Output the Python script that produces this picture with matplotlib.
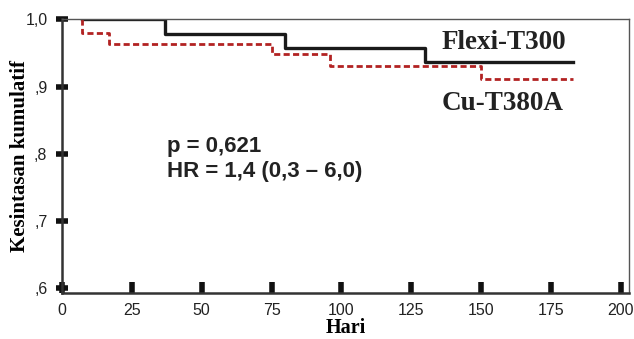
import matplotlib
matplotlib.use('Agg')
import matplotlib.pyplot as plt

# Kaplan-Meier step data (days, cumulative survival)
flexi_t = [7, 37, 80, 130, 183]
flexi_s = [1.0, 0.978, 0.957, 0.936, 0.936]

cu_t = [7, 7, 17, 75, 96, 150, 183]
cu_s = [1.0, 0.980, 0.964, 0.948, 0.930, 0.911, 0.911]

xticks = [0, 25, 50, 75, 100, 125, 150, 175, 200]
yticks = [0.6, 0.7, 0.8, 0.9, 1.0]
ytick_labels = [',6', ',7', ',8', ',9', '1,0']

sans = ['Liberation Sans', 'DejaVu Sans']
serif = ['Liberation Serif', 'DejaVu Serif']

fig = plt.figure(figsize=(6.34, 3.39), dpi=100)
ax = fig.add_axes([0.0978, 0.1357, 0.894, 0.8068])

ax.step(flexi_t, flexi_s, where='post', color='#1a1a1a', lw=2.4)
ax.step(cu_t, cu_s, where='post', color='#b22222', lw=2.0, linestyle=(0, (2.2, 1.2)))

ax.set_xlim(0, 202.9)
ax.set_ylim(0.5926, 1.0)

ax.set_xticks(xticks)
ax.set_xticklabels([str(v) for v in xticks], fontfamily=sans, fontsize=11.5, color='#222222')
ax.set_yticks(yticks)
ax.set_yticklabels(ytick_labels, fontfamily=sans, fontsize=11.5, color='#222222')
ax.tick_params(axis='x', direction='in', length=8, width=4, pad=7, color='#111111')
ax.tick_params(axis='y', direction='inout', length=9, width=4, pad=6, color='#111111')

for side in ['left', 'bottom']:
    ax.spines[side].set_linewidth(1.8)
    ax.spines[side].set_color('#333333')
for side in ['top', 'right']:
    ax.spines[side].set_linewidth(1.0)
    ax.spines[side].set_color('#555555')

ax.set_ylabel('Kesintasan kumulatif', fontfamily=serif, fontweight='bold', fontsize=15)
ax.yaxis.set_label_coords(-0.056, 0.5)
ax.set_xlabel('Hari', fontfamily=serif, fontweight='bold', fontsize=14.5)
ax.xaxis.set_label_coords(0.5, -0.093)

ax.text(37.5, 0.811, 'p = 0,621', fontfamily=sans, fontweight='bold', fontsize=16, color='#222222', va='center')
ax.text(37.5, 0.773, 'HR = 1,4 (0,3 \u2013 6,0)', fontfamily=sans, fontweight='bold', fontsize=16, color='#222222', va='center')

ax.text(135.8, 0.966, 'Flexi-T300', fontfamily=serif, fontweight='bold', fontsize=19.5, color='#222222', va='center')
ax.text(135.8, 0.875, 'Cu-T380A', fontfamily=serif, fontweight='bold', fontsize=19.5, color='#222222', va='center')

fig.savefig('out.png', dpi=100)
